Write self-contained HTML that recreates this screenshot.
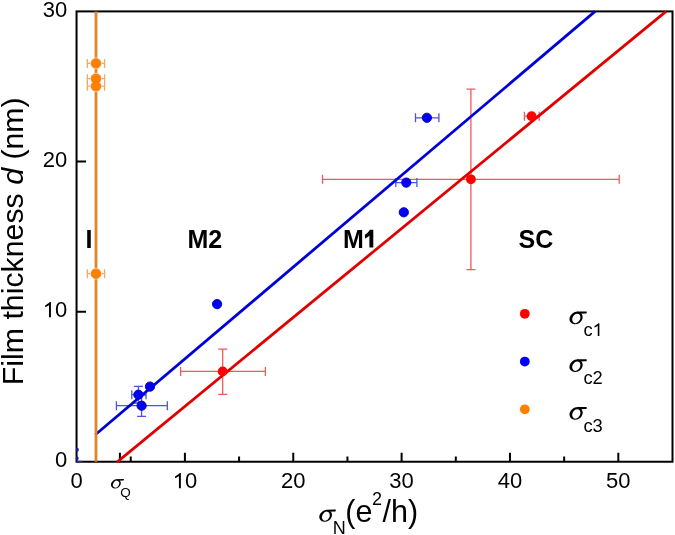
<!DOCTYPE html><html><head><meta charset="utf-8"><style>html,body{margin:0;padding:0;background:#fff;}svg{display:block;will-change:transform}</style></head><body>
<svg width="675" height="535" viewBox="0 0 675 535" font-family="Liberation Sans, sans-serif">
<defs><g id="sg"><path fill-rule="evenodd" d="M12.484,2.685A7,5.9 -35 0 1 1.016,10.715A7,5.9 -35 0 1 12.484,2.685ZM9.5,2.67A5,3.8 -60 0 0 4.5,11.33A5,3.8 -60 0 0 9.5,2.67Z"/><path d="M7.2,0.2L17.0,0.0Q17.6,0.2 17.5,1.0Q17.4,1.9 16.8,2.0L9.5,2.35Z"/></g><path id="one" d="M763,0L583,0L583,1147C540,1106 483,1065 413,1024C343,983 280,952 223,931L223,1105C324,1152 412,1210 487,1277C562,1300 615,1360 646,1425L763,1425Z"/></defs>
<rect x="76.55" y="11.4" width="595.95" height="450.34000000000003" fill="none" stroke="#000" stroke-width="2"/>
<path d="M184.90,461.74v-9M293.26,461.74v-9M401.61,461.74v-9M509.97,461.74v-9M618.32,461.74v-9M130.73,461.74v-5.3M239.08,461.74v-5.3M347.44,461.74v-5.3M455.79,461.74v-5.3M564.15,461.74v-5.3M119.89,461.74v-9M76.55,311.63h9.5M76.55,161.51h9.5" stroke="#000" stroke-width="2" fill="none"/>
<path d="M180.6,371.4H265.4M180.6,366.9v9M265.4,366.9v9" stroke="#ee5a5a" stroke-width="1.3" fill="none"/>
<path d="M222.7,349.2V394.4M218.2,349.2h9M218.2,394.4h9" stroke="#ee5a5a" stroke-width="1.3" fill="none"/>
<path d="M322.5,179.3H619.2M322.5,174.8v9M619.2,174.8v9" stroke="#ee5a5a" stroke-width="1.3" fill="none"/>
<path d="M470.9,89.2V269.6M466.4,89.2h9M466.4,269.6h9" stroke="#ee5a5a" stroke-width="1.3" fill="none"/>
<path d="M524.4,116.2H539.2M524.4,111.7v9M539.2,111.7v9" stroke="#ee5a5a" stroke-width="1.3" fill="none"/>
<path d="M131.8,394.7H146.0M131.8,390.2v9M146.0,390.2v9" stroke="#4a55dd" stroke-width="1.3" fill="none"/>
<path d="M138.4,386.4V403.0M133.9,386.4h9M133.9,403.0h9" stroke="#4a55dd" stroke-width="1.3" fill="none"/>
<path d="M116.4,405.7H167.3M116.4,401.2v9M167.3,401.2v9" stroke="#4a55dd" stroke-width="1.3" fill="none"/>
<path d="M141.6,395.0V416.3M137.1,395.0h9M137.1,416.3h9" stroke="#4a55dd" stroke-width="1.3" fill="none"/>
<path d="M395.8,182.6H416.9M395.8,178.1v9M416.9,178.1v9" stroke="#4a55dd" stroke-width="1.3" fill="none"/>
<path d="M415.5,117.8H438.9M415.5,113.3v9M438.9,113.3v9" stroke="#4a55dd" stroke-width="1.3" fill="none"/>
<path d="M87.3,63.4H104.6M87.3,58.9v9M104.6,58.9v9" stroke="#f2a868" stroke-width="1.3" fill="none"/>
<path d="M87.3,78.7H104.6M87.3,74.2v9M104.6,74.2v9" stroke="#f2a868" stroke-width="1.3" fill="none"/>
<path d="M87.3,86.2H104.6M87.3,81.7v9M104.6,81.7v9" stroke="#f2a868" stroke-width="1.3" fill="none"/>
<path d="M87.3,273.7H104.6M87.3,269.2v9M104.6,269.2v9" stroke="#f2a868" stroke-width="1.3" fill="none"/>
<line x1="95.3" y1="434.7" x2="595.1" y2="11.4" stroke="#0000d8" stroke-width="2.8"/>
<line x1="117.0" y1="462.1" x2="666.1" y2="11.4" stroke="#e00000" stroke-width="2.8"/>
<circle cx="222.7" cy="371.4" r="4.9" fill="#ff0000"/>
<circle cx="470.9" cy="179.3" r="4.9" fill="#ff0000"/>
<circle cx="531.6" cy="116.2" r="4.9" fill="#ff0000"/>
<circle cx="150.0" cy="386.6" r="4.65" fill="#0000f4" stroke="#0000b8" stroke-width="0.9"/>
<circle cx="138.4" cy="394.7" r="4.65" fill="#0000f4" stroke="#0000b8" stroke-width="0.9"/>
<circle cx="141.6" cy="405.7" r="4.65" fill="#0000f4" stroke="#0000b8" stroke-width="0.9"/>
<circle cx="217.1" cy="304.1" r="4.65" fill="#0000f4" stroke="#0000b8" stroke-width="0.9"/>
<circle cx="406.3" cy="182.6" r="4.65" fill="#0000f4" stroke="#0000b8" stroke-width="0.9"/>
<circle cx="403.8" cy="212.3" r="4.65" fill="#0000f4" stroke="#0000b8" stroke-width="0.9"/>
<circle cx="426.9" cy="117.8" r="4.65" fill="#0000f4" stroke="#0000b8" stroke-width="0.9"/>
<line x1="96" y1="11.4" x2="96" y2="461.74" stroke="#e08428" stroke-width="2.8"/>
<circle cx="96.0" cy="63.4" r="5.9" fill="#fbe3c8"/>
<circle cx="96.0" cy="78.7" r="5.9" fill="#fbe3c8"/>
<circle cx="96.0" cy="86.2" r="5.9" fill="#fbe3c8"/>
<circle cx="96.0" cy="273.7" r="5.9" fill="#fbe3c8"/>
<circle cx="96.0" cy="63.4" r="4.75" fill="#ff8000" stroke="#f07a08" stroke-width="0.8"/>
<circle cx="96.0" cy="78.7" r="4.75" fill="#ff8000" stroke="#f07a08" stroke-width="0.8"/>
<circle cx="96.0" cy="86.2" r="4.75" fill="#ff8000" stroke="#f07a08" stroke-width="0.8"/>
<circle cx="96.0" cy="273.7" r="4.75" fill="#ff8000" stroke="#f07a08" stroke-width="0.8"/>
<ellipse cx="77.3" cy="449.8" rx="1.5" ry="2.0" fill="#1a1aa8"/><ellipse cx="77.2" cy="458.2" rx="1.4" ry="1.9" fill="#1a1aa8"/>
<path d="M76.5,461.4H82.5" stroke="#2a2a90" stroke-width="1.2"/>
<text x="67.2" y="467.44" font-size="22" text-anchor="end">0</text>
<use href="#one" transform="translate(42.74,317.33) scale(0.01074,-0.01074)"/>
<text x="54.97" y="317.33" font-size="22">0</text>
<text x="67.2" y="167.21" font-size="22" text-anchor="end">20</text>
<text x="67.2" y="17.10" font-size="22" text-anchor="end">30</text>
<text x="76.55" y="488.3" font-size="22" text-anchor="middle">0</text>
<use href="#one" transform="translate(172.67,488.30) scale(0.01074,-0.01074)"/>
<text x="184.90" y="488.3" font-size="22">0</text>
<text x="293.26" y="488.3" font-size="22" text-anchor="middle">20</text>
<text x="401.61" y="488.3" font-size="22" text-anchor="middle">30</text>
<text x="509.97" y="488.3" font-size="22" text-anchor="middle">40</text>
<text x="618.32" y="488.3" font-size="22" text-anchor="middle">50</text>
<use href="#sg" transform="translate(110.8,479.0) scale(0.75,0.73)"/>
<text x="120.3" y="496.5" font-size="13.5">Q</text>
<g font-weight="bold" font-size="25">
<text x="85.6" y="247.6">I</text>
<text x="187.5" y="247.6">M2</text>
<text x="343.0" y="247.6">M</text>
<path d="M373.3,229.8V247.6H369.4V235.6C368.2,236.9 366.6,238.0 364.9,238.7V234.7C366.8,233.7 368.9,231.8 369.9,229.8Z"/>
<text x="518.5" y="247.6">SC</text>
</g>
<circle cx="524.8" cy="313.8" r="4.9" fill="#ff0000"/>
<use href="#sg" transform="translate(569.3,311.40)"/>
<text x="583.4" y="336.00" font-size="18.3">c</text>
<use href="#one" transform="translate(592.55,336.00) scale(0.00894,-0.00894)"/>
<circle cx="524.8" cy="361.55" r="4.9" fill="#0000ff"/>
<use href="#sg" transform="translate(569.3,359.15)"/>
<text x="583.4" y="383.75" font-size="18.3">c2</text>
<circle cx="524.8" cy="409.3" r="4.9" fill="#ff8000"/>
<use href="#sg" transform="translate(569.3,406.90)"/>
<text x="583.4" y="431.50" font-size="18.3">c3</text>
<text transform="translate(23.0,385.2) rotate(-90)" font-size="30.3">Film thickness <tspan font-style="italic">d</tspan> (nm)</text>
<use href="#sg" transform="translate(319.2,509.6) scale(0.95,0.94)"/>
<text x="332.8" y="533.8" font-size="18">N</text>
<text x="345.3" y="521.5" font-size="30.5">(e</text>
<text x="372.0" y="505.2" font-size="18">2</text>
<text x="382.6" y="521.5" font-size="30.5">/h)</text>
</svg></body></html>
